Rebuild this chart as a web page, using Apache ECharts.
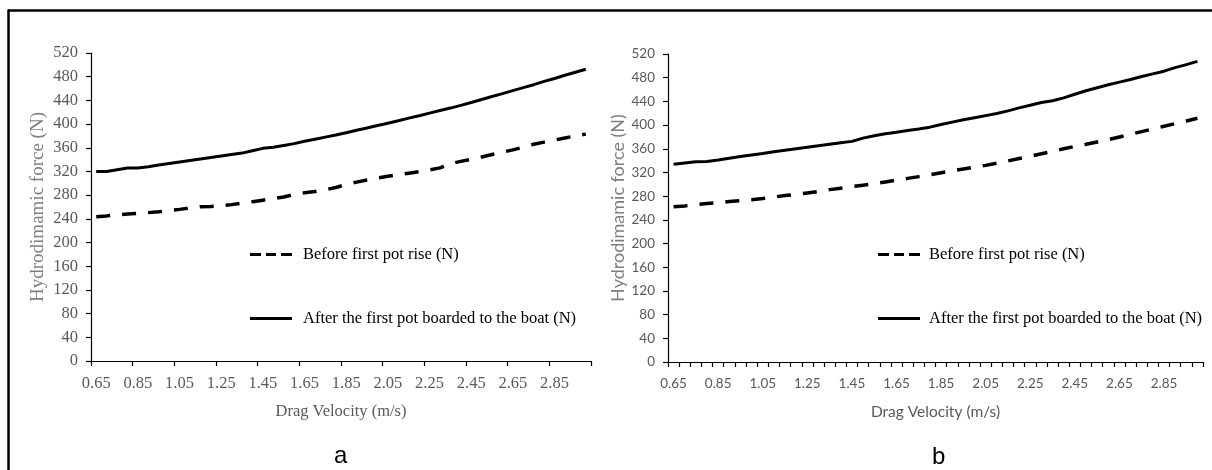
<!DOCTYPE html>
<html>
<head>
<meta charset="utf-8">
<script src="https://cdn.jsdelivr.net/npm/echarts@6/dist/echarts.min.js"></script>
<style>
  html, body { margin: 0; padding: 0; background: #fff; }
  #chart { width: 1212px; height: 470px; }
</style>
</head>
<body>
<div id="chart"></div>
<script>
// Drag velocity categories (m/s), one per 0.05 step
const velocities = [
  '0.65','0.70','0.75','0.80','0.85','0.90','0.95','1.00','1.05','1.10','1.15','1.20',
  '1.25','1.30','1.35','1.40','1.45','1.50','1.55','1.60','1.65','1.70','1.75','1.80',
  '1.85','1.90','1.95','2.00','2.05','2.10','2.15','2.20','2.25','2.30','2.35','2.40',
  '2.45','2.50','2.55','2.60','2.65','2.70','2.75','2.80','2.85','2.90','2.95','3.00'
];

// Panel a: hydrodynamic force (N)
const beforeRiseA = [
  243.5,245,247,248,249,250.5,252,254,256,258.5,260.5,261,
  262,264,266.5,269,271.5,274,277,281,284,286,289,293,
  298,302,305.5,309,312,314.5,317,319.5,322.5,326,333,337,
  340.5,344.5,348.5,352.5,356.5,361,366,369.5,373,376.5,380,383
];
const afterBoardA = [
  320,320,323,326,326,328,331,333.5,336,338.5,341,343.5,
  346,348.5,351,355,359,361,364,367,371,374.5,378,381.5,
  385.5,389.5,393.5,397.5,401.5,405.5,410,414,418.5,423,427,431.5,
  436.5,441.5,446.5,451.5,456.5,461.5,466.5,472,477,482.5,487.5,492.5
];

// Panel b: hydrodynamic force (N)
const beforeRiseB = [
  262,263.5,265.5,267.5,269,271,272.5,274,276,278.5,281,283,
  285.5,288,291,293.5,296,298.5,301,304,307,310,313,316,
  319.5,322.5,326,329,332,335.5,339.5,343.5,347.5,351.5,355.5,360,
  364,367.5,371.5,375.5,380,384.5,389,393.5,398,402.5,407,411.5
];
const afterBoardB = [
  334,336,338,338.5,341,344,347,349.5,352,355,357.5,360,
  362.5,365,367.5,370,372.5,378,382,385.5,388,391,393.5,396.5,
  401,405,409,412.5,416,419.5,424,429,433.5,438,441,446,
  452,458,463,468,472.5,477,482,486.5,491,497,502,507.5
];

const forceAxis = { min: 0, max: 520, interval: 40 };
const nameBefore = 'Before first pot rise (N)';
const nameAfter = 'After the first pot boarded to the boat (N)';

const serif = 'Liberation Serif';
const sans = 'Lato';
const grey = '#595959';

// Legend keys: a short dashed bar and a solid bar
const dashedKey = 'path://M0,0h11v3h-11zM16,0h10v3h-10zM31,0h11v3h-11z';
const solidKey = 'path://M0,0h42v3h-42z';

function xAxisFor(gridIndex, font, size, labelGap, titleSize, titleGap, tickEvery) {
  return {
    type: 'category', gridIndex: gridIndex, data: velocities, boundaryGap: true,
    name: 'Drag Velocity (m/s)', nameLocation: 'middle', nameGap: titleGap,
    nameTextStyle: { fontFamily: font, fontSize: titleSize, color: grey },
    axisLine: { lineStyle: { color: '#000', width: 1.2 } },
    axisTick: { show: true, inside: false, length: 5, interval: tickEvery, lineStyle: { color: '#000', width: 1.2 } },
    axisLabel: { interval: 3, margin: labelGap, fontFamily: font, fontSize: size, color: grey },
    splitLine: { show: false }
  };
}
function yAxisFor(gridIndex, font, size, titleSize, titleGap) {
  return {
    type: 'value', gridIndex: gridIndex,
    min: forceAxis.min, max: forceAxis.max, interval: forceAxis.interval,
    name: 'Hydrodimamic force (N)', nameLocation: 'middle', nameGap: titleGap, nameRotate: 90,
    nameTextStyle: { fontFamily: font, fontSize: titleSize, color: '#7f7f7f' },
    axisLine: { show: true, lineStyle: { color: '#000', width: 1.2 } },
    axisTick: { show: true, inside: false, length: 5, lineStyle: { color: '#000', width: 1.2 } },
    axisLabel: { margin: 13, fontFamily: font, fontSize: size, color: grey },
    splitLine: { show: false }
  };
}
function lineSeries(name, data, axisIndex, dashed) {
  return {
    type: 'line', name: name, data: data, xAxisIndex: axisIndex, yAxisIndex: axisIndex,
    symbol: 'none', smooth: false, silent: true, animation: false,
    itemStyle: { color: '#000' },
    lineStyle: dashed
      ? { color: '#000', width: 3.5, type: [14, 12], cap: 'butt' }
      : { color: '#000', width: 3, type: 'solid' }
  };
}
function legendFor(left, textPad) {
  return {
    left: left, top: 246, orient: 'vertical', itemGap: 47, itemWidth: 42, itemHeight: 3,
    padding: 0, selectedMode: false,
    itemStyle: { color: '#000' },
    textStyle: { fontFamily: serif, fontSize: 16.5, color: '#000', padding: [0, 0, 0, textPad] },
    data: [
      { name: nameBefore, icon: dashedKey },
      { name: nameAfter, icon: solidKey }
    ]
  };
}

const chart = echarts.init(document.getElementById('chart'), null, { renderer: 'canvas' });
chart.setOption({
  backgroundColor: '#fff',
  animation: false,
  grid: [
    { left: 91, top: 53, width: 500, height: 308 },
    { left: 668, top: 54, width: 535, height: 308 }
  ],
  xAxis: [xAxisFor(0, serif, 16.5, 14, 16.5, 42, 3), xAxisFor(1, sans, 13.5, 15, 15.5, 42, 0)],
  yAxis: [yAxisFor(0, serif, 16.5, 19, 43), yAxisFor(1, sans, 13.5, 18, 41)],
  legend: [legendFor(250, 6), legendFor(878, 4)],
  series: [
    lineSeries(nameBefore, beforeRiseA, 0, true),
    lineSeries(nameAfter, afterBoardA, 0, false),
    lineSeries(nameBefore, beforeRiseB, 1, true),
    lineSeries(nameAfter, afterBoardB, 1, false)
  ],
  graphic: [
    { type: 'line', shape: { x1: 8, y1: 10.5, x2: 1212, y2: 10.5 }, style: { stroke: '#000', lineWidth: 2.5 }, silent: true },
    { type: 'line', shape: { x1: 8.5, y1: 9.5, x2: 8.5, y2: 470 }, style: { stroke: '#000', lineWidth: 2.5 }, silent: true },
    { type: 'text', left: 334, top: 444, style: { text: 'a', font: '24px "Liberation Sans"', fill: '#000' }, silent: true },
    { type: 'text', left: 932, top: 445, style: { text: 'b', font: '24px "Liberation Sans"', fill: '#000' }, silent: true }
  ]
});
</script>
</body>
</html>
